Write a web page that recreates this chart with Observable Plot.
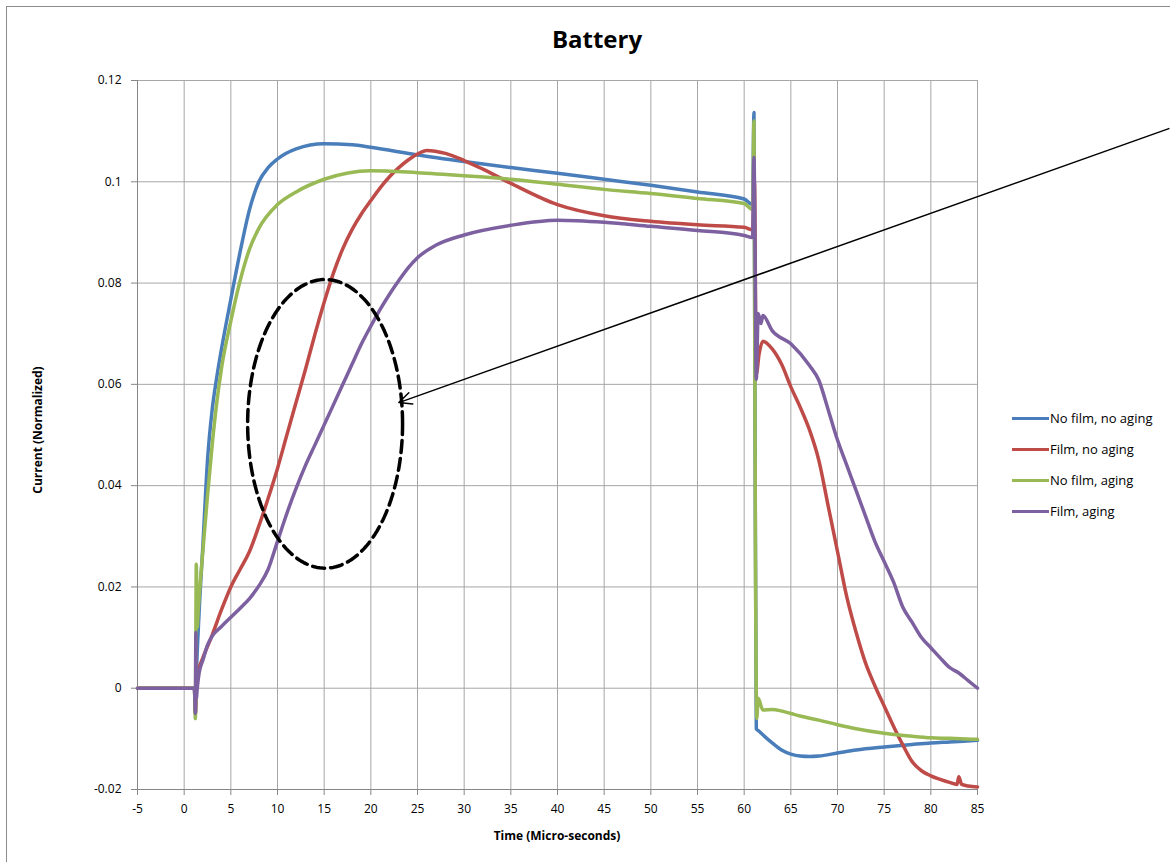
<!DOCTYPE html>
<html><head><meta charset="utf-8">
<script src="https://cdn.jsdelivr.net/npm/d3@7"></script>
<script src="https://cdn.jsdelivr.net/npm/@observablehq/plot@0.6"></script>
<style>
html,body{margin:0;padding:0;background:#fff;}
#wrap{position:relative;width:1170px;height:862px;overflow:hidden;font-family:"Open Sans",sans-serif;color:#000;}
#frame{position:absolute;left:6px;top:6px;width:1300px;height:1000px;border-left:1.5px solid #8c8c8c;border-top:1.5px solid #8c8c8c;}
#chart{position:absolute;left:0;top:0;}
#title{position:absolute;left:0;width:1194px;top:24px;text-align:center;font-weight:bold;font-size:24px;line-height:30px;}
#xtitle{position:absolute;left:0;width:1114px;top:827px;text-align:center;font-weight:bold;font-size:12px;line-height:18px;}
#ytitle{position:absolute;left:38px;top:430px;transform:translate(-50%,-50%) rotate(-90deg);font-weight:bold;font-size:12px;white-space:nowrap;line-height:16px;}
.leg{position:absolute;left:1012px;height:20px;font-size:13px;white-space:nowrap;}
.leg span.sw{position:absolute;left:0;top:9px;width:37px;height:3px;}
.leg span.tx{position:absolute;left:38px;top:0;line-height:20px;}
</style></head>
<body><div id="wrap">
<div id="frame"></div>
<div id="chart"></div>
<div id="title">Battery</div>
<div id="xtitle">Time (Micro-seconds)</div>
<div id="ytitle">Current (Normalized)</div>
<div id="legend"></div>
</div>
<script>
// ---- data ----
const seriesNames = ["No film, no aging", "Film, no aging", "No film, aging", "Film, aging"];
const seriesColors = ["#4a7ebb", "#be4b48", "#98b954", "#7d60a0"];

const tBlue = [-5, 1.1, 1.2, 1.3, 1.6, 2, 2.5, 3, 3.5, 4, 5, 6, 7, 8, 9, 10, 12, 15, 18, 20, 25, 30, 35, 40, 45, 50, 55, 60, 60.9, 61.05, 61.15, 61.3, 61.6, 62, 63, 64, 65, 66, 67, 68, 70, 72, 75, 78, 80, 82, 85];
const vBlue = [0, 0, -0.005, 0.002, 0.015, 0.028, 0.045, 0.055, 0.0615, 0.067, 0.0768, 0.0862, 0.0945, 0.1, 0.1028, 0.1045, 0.1065, 0.1075, 0.1073, 0.1068, 0.1053, 0.104, 0.1028, 0.1017, 0.1005, 0.0993, 0.098, 0.0966, 0.0955, 0.1137, 0.06, -0.008, -0.0085, -0.0092, -0.0108, -0.0122, -0.013, -0.0134, -0.0135, -0.0134, -0.0128, -0.0122, -0.0116, -0.0111, -0.0108, -0.0106, -0.0103];

const tRed = [-5, 1.1, 1.2, 1.35, 1.6, 2, 3, 4, 5, 6, 7, 8, 9, 10, 11, 12, 13, 14, 15, 16, 17, 18, 19, 20, 21, 22, 23, 24, 25, 26, 28, 30, 32, 35, 40, 45, 50, 55, 60, 60.9, 61.1, 61.3, 61.6, 62, 63, 64, 65, 66, 67, 68, 69, 70, 71, 72, 73, 74, 75, 76, 77, 78, 79, 80, 81, 82, 82.8, 83, 83.3, 84, 85];
const vRed = [0, 0, -0.005, 0.002, 0.004, 0.006, 0.0105, 0.0155, 0.02, 0.0235, 0.027, 0.032, 0.0375, 0.0434, 0.05, 0.0565, 0.063, 0.0698, 0.0762, 0.082, 0.0868, 0.0906, 0.0937, 0.0963, 0.0988, 0.101, 0.1028, 0.1043, 0.1055, 0.1062, 0.1056, 0.1042, 0.1025, 0.0997, 0.0955, 0.0933, 0.0922, 0.0915, 0.091, 0.0905, 0.1, 0.062, 0.066, 0.0685, 0.067, 0.064, 0.0595, 0.0555, 0.051, 0.045, 0.036, 0.027, 0.018, 0.011, 0.005, 0.0005, -0.0035, -0.0075, -0.0112, -0.0145, -0.0163, -0.0173, -0.018, -0.0186, -0.019, -0.0175, -0.019, -0.0193, -0.0195];

const tGreen = [-5, 1.1, 1.2, 1.3, 1.4, 1.5, 2, 2.5, 3, 3.5, 4, 5, 6, 7, 8, 10, 12, 15, 20, 25, 30, 35, 40, 45, 50, 55, 60, 60.9, 61.05, 61.2, 61.35, 61.5, 62, 63, 64, 65, 66, 68, 70, 72, 75, 78, 80, 82, 85];
const vGreen = [0, 0, -0.006, 0.0245, 0.012, 0.015, 0.027, 0.038, 0.048, 0.0565, 0.0632, 0.0725, 0.0805, 0.0867, 0.0908, 0.0955, 0.098, 0.1005, 0.1022, 0.1018, 0.1012, 0.1005, 0.0995, 0.0985, 0.0977, 0.0967, 0.0957, 0.0945, 0.112, 0.03, -0.006, -0.002, -0.0043, -0.0042, -0.0045, -0.005, -0.0055, -0.0063, -0.0072, -0.008, -0.0089, -0.0095, -0.0098, -0.0099, -0.0101];

const tPurple = [-5, 1.1, 1.2, 1.25, 1.3, 1.4, 1.6, 2, 2.5, 3, 4, 5, 6, 7, 8, 9, 10, 11, 12, 13, 14, 15, 16, 17, 18, 19, 20, 21, 22, 23, 24, 25, 27, 30, 35, 40, 45, 50, 55, 60, 60.9, 61.05, 61.3, 61.5, 61.8, 62, 63, 65, 67, 68, 69, 70, 71, 72, 73, 74, 75, 76, 77, 78, 79, 80, 81, 82, 83, 84, 85];
const vPurple = [0, 0, -0.005, 0.011, -0.002, 0.0, 0.003, 0.0055, 0.0085, 0.0103, 0.0122, 0.014, 0.0158, 0.0177, 0.0202, 0.0235, 0.029, 0.0345, 0.0395, 0.044, 0.048, 0.052, 0.056, 0.06, 0.064, 0.068, 0.0715, 0.0748, 0.0778, 0.0805, 0.083, 0.085, 0.0875, 0.0895, 0.0914, 0.0924, 0.092, 0.0912, 0.0904, 0.0894, 0.089, 0.1048, 0.061, 0.074, 0.072, 0.0736, 0.0706, 0.068, 0.0637, 0.0608, 0.055, 0.049, 0.044, 0.039, 0.034, 0.029, 0.025, 0.021, 0.016, 0.013, 0.010, 0.008, 0.006, 0.0041, 0.003, 0.0015, 0];

const xTicks = [-5, 0, 5, 10, 15, 20, 25, 30, 35, 40, 45, 50, 55, 60, 65, 70, 75, 80, 85];
const yTicks = [-0.02, 0, 0.02, 0.04, 0.06, 0.08, 0.1, 0.12];

// annotation: dashed ellipse (center, radii in data units) and arrow
const ellipseCenter = [15.1, 0.0522];
const ellipseRadii = [8.3, 0.0285];
const arrowFrom = [105.5, 0.1105];
const arrowTo = [23, 0.0564];

// ---- build ----
const tArr = [tBlue, tRed, tGreen, tPurple];
const vArr = [vBlue, vRed, vGreen, vPurple];
const seriesRows = seriesNames.map((name, k) => tArr[k].map((t, i) => ({t, v: vArr[k][i], name})));

const ellipse = d3.range(0, 361, 2).map(a => ({
  x: ellipseCenter[0] + ellipseRadii[0] * Math.cos(a * Math.PI / 180),
  y: ellipseCenter[1] + ellipseRadii[1] * Math.sin(a * Math.PI / 180)
}));

const fmtY = d => d === 0 ? "0" : String(+d.toFixed(2));

const chart = Plot.plot({
  width: 1170, height: 862,
  marginLeft: 137, marginRight: 193, marginTop: 80, marginBottom: 73,
  style: {background: "transparent", fontFamily: "'Open Sans', sans-serif", fontSize: "12px", color: "#000", overflow: "visible"},
  x: {domain: [-5, 85]},
  y: {domain: [-0.02, 0.12]},
  marks: [
    Plot.ruleX(xTicks, {stroke: "#a6a6a6", strokeWidth: 1}),
    Plot.ruleY(yTicks, {stroke: "#a6a6a6", strokeWidth: 1}),
    Plot.ruleX([-5], {stroke: "#868686"}),
    Plot.ruleY([-0.02], {stroke: "#868686"}),
    Plot.axisX({ticks: xTicks, tickSize: 6, tickPadding: 9, tickFormat: d => String(d), label: null, stroke: "#868686", fontSize: 12}),
    Plot.axisY({ticks: yTicks, tickSize: 6, tickPadding: 10, tickFormat: fmtY, label: null, stroke: "#868686", fontSize: 12}),
    ...seriesRows.map((rows, k) => Plot.line(rows, {x: "t", y: "v", stroke: seriesColors[k], strokeWidth: 3.5, strokeLinejoin: "round", curve: "monotone-x"})),
    Plot.line(ellipse, {x: "x", y: "y", stroke: "black", strokeWidth: 3.5, strokeDasharray: "12,6"}),
    Plot.arrow([{x1: arrowFrom[0], y1: arrowFrom[1], x2: arrowTo[0], y2: arrowTo[1]}],
      {x1: "x1", y1: "y1", x2: "x2", y2: "y2", stroke: "black", strokeWidth: 1.5, headLength: 14, headAngle: 50})
  ]
});
document.getElementById("chart").appendChild(chart);

// legend
const legendY = [408, 439, 470, 501];
const leg = document.getElementById("legend");
seriesNames.forEach((n, k) => {
  const d = document.createElement("div");
  d.className = "leg";
  d.style.top = legendY[k] + "px";
  d.innerHTML = `<span class="sw" style="background:${seriesColors[k]}"></span><span class="tx">${n}</span>`;
  leg.appendChild(d);
});
</script>
</body></html>
